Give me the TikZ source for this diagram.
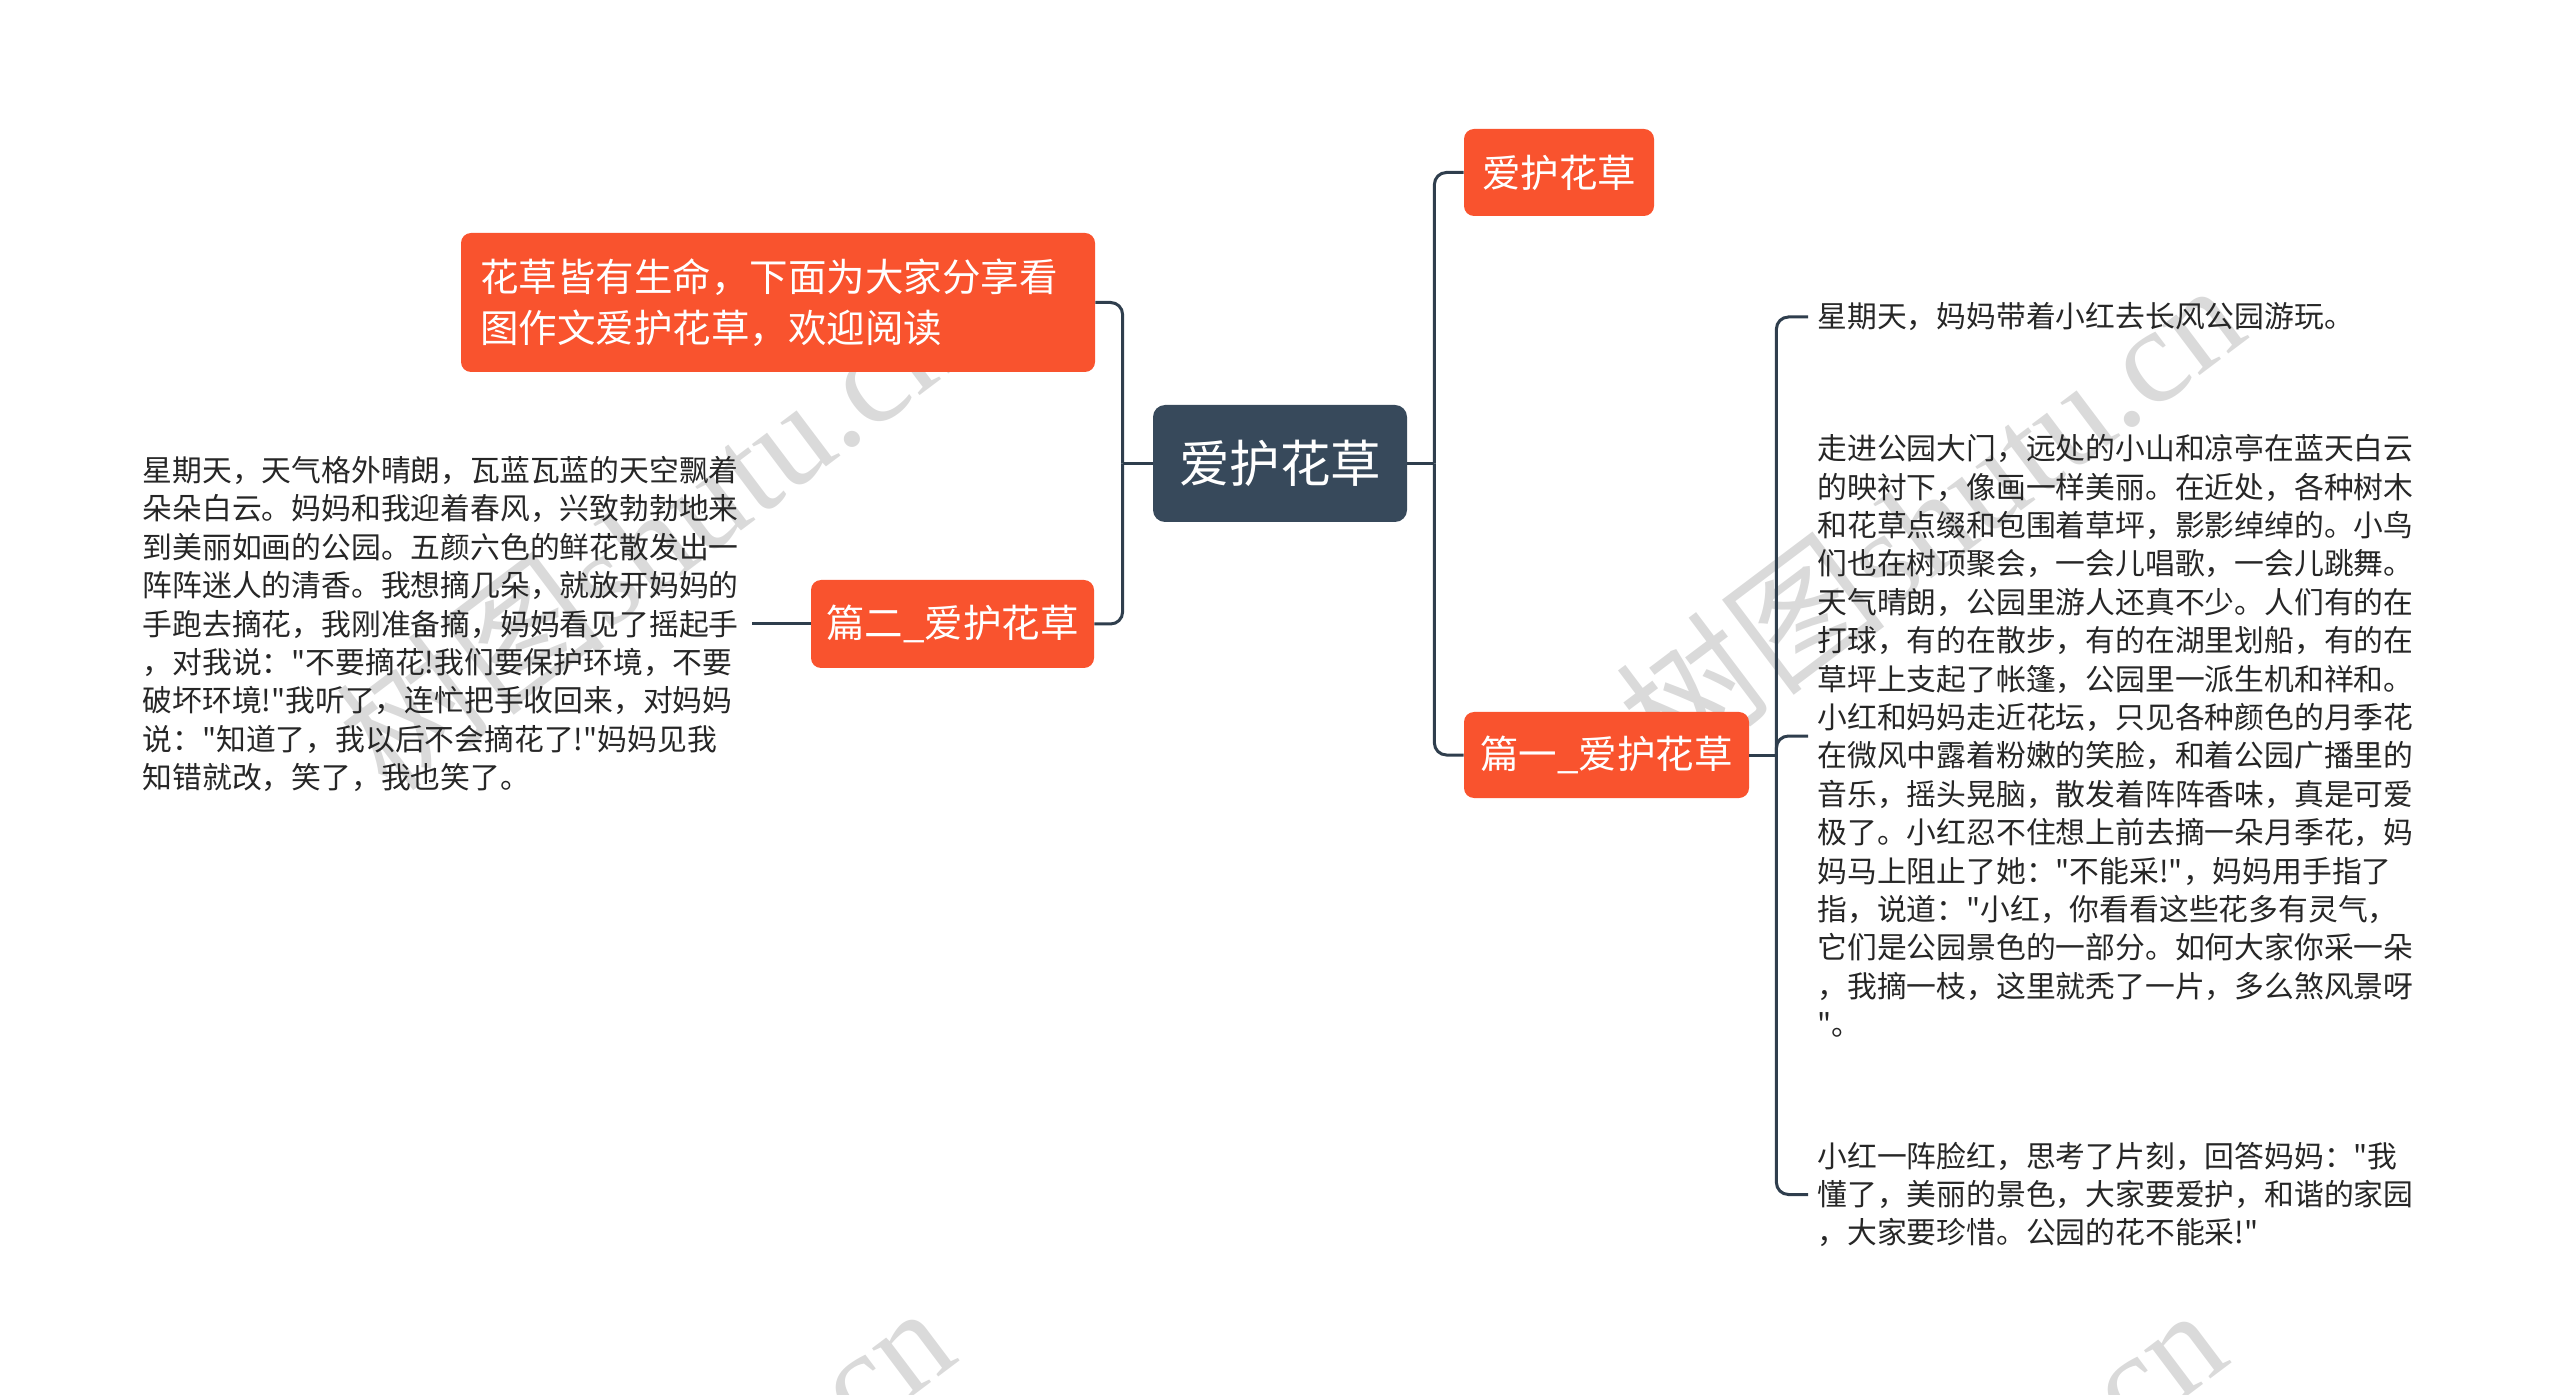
\documentclass[tikz,border=0pt]{standalone}
\usepackage{fontspec}
\newfontfamily\cjkf{Noto Sans CJK SC}
\newfontfamily\wmserif{Liberation Serif}
\definecolor{orng}{HTML}{F9532E}
\definecolor{slate}{HTML}{37495B}
\definecolor{linec}{HTML}{2F3E4D}
\definecolor{txt}{HTML}{262626}
\definecolor{wmc}{HTML}{DADADA}
\begin{document}
\begin{tikzpicture}[x=0.5pt,y=-0.5pt,
  topic/.style={fill=orng, text=white, rounded corners=5pt, inner sep=0pt, font=\cjkf\fontsize{19.25pt}{25.5pt}\selectfont},
  root/.style={fill=slate, text=white, rounded corners=6pt, inner sep=0pt, font=\cjkf\fontsize{25.25pt}{30pt}\selectfont},
  para/.style={text=txt, align=left, inner xsep=4.5pt, inner ysep=0pt, text width=300pt, font=\cjkf\fontsize{14.9pt}{19.2pt}\selectfont},
  conn/.style={draw=linec, line width=1.5pt, rounded corners=6pt},
  wmark/.style={text=wmc, rotate=37, inner sep=0pt, font=\cjkf\fontsize{68pt}{68pt}\selectfont}
]
\useasboundingbox (0,0) rectangle (2560,1395);
\begin{scope}
\clip (0,0) rectangle (2560,1395);
\node[wmark] (wma) at (650,535) {树图\wmserif shutu.cn};
\node[wmark] (wmb) at (1930,515) {树图\wmserif shutu.cn};
\node[wmark] (wmc) at (640,1538) {树图\wmserif shutu.cn};
\node[wmark] (wmd) at (1912,1540) {树图\wmserif shutu.cn};
\end{scope}

\node[root, minimum width=127pt, minimum height=58.5pt] (root) at (1280,463.5) {爱护花草};
\node[topic, minimum width=95pt, minimum height=43.5pt] (t1) at (1559,172.5) {爱护花草};
\node[topic, minimum width=142.5pt, minimum height=43pt] (p1) at (1606.5,755) {篇一\_爱护花草};
\node[topic, minimum width=141.5pt, minimum height=44pt] (p2) at (952.5,624) {篇二\_爱护花草};
\node[topic, minimum width=317pt, minimum height=69.5pt, align=left, text width=298pt, inner xsep=9pt] (intro) at (778,302.5) {花草皆有生命，下面为大家分享看\\图作文爱护花草，欢迎阅读};

\node[para, anchor=east] (l1) at (752,624) {星期天，天气格外晴朗，瓦蓝瓦蓝的天空飘着\\
朵朵白云。妈妈和我迎着春风，兴致勃勃地来\\
到美丽如画的公园。五颜六色的鲜花散发出一\\
阵阵迷人的清香。我想摘几朵，就放开妈妈的\\
手跑去摘花，我刚准备摘，妈妈看见了摇起手\\
，对我说："不要摘花!我们要保护环境，不要\\
破坏环境!"我听了，连忙把手收回来，对妈妈\\
说："知道了，我以后不会摘花了!"妈妈见我\\
知错就改，笑了，我也笑了。};

\node[para, anchor=west] (r1) at (1808,317) {星期天，妈妈带着小红去长风公园游玩。};
\node[para, anchor=west] (r2) at (1808,736) {走进公园大门，远处的小山和凉亭在蓝天白云\\
的映衬下，像画一样美丽。在近处，各种树木\\
和花草点缀和包围着草坪，影影绰绰的。小鸟\\
们也在树顶聚会，一会儿唱歌，一会儿跳舞。\\
天气晴朗，公园里游人还真不少。人们有的在\\
打球，有的在散步，有的在湖里划船，有的在\\
草坪上支起了帐篷，公园里一派生机和祥和。\\
小红和妈妈走近花坛，只见各种颜色的月季花\\
在微风中露着粉嫩的笑脸，和着公园广播里的\\
音乐，摇头晃脑，散发着阵阵香味，真是可爱\\
极了。小红忍不住想上前去摘一朵月季花，妈\\
妈马上阻止了她："不能采!"，妈妈用手指了\\
指，说道："小红，你看看这些花多有灵气，\\
它们是公园景色的一部分。如何大家你采一朵\\
，我摘一枝，这里就秃了一片，多么煞风景呀\\
"。};
\node[para, anchor=west] (r3) at (1808,1194.5) {小红一阵脸红，思考了片刻，回答妈妈："我\\
懂了，美丽的景色，大家要爱护，和谐的家园\\
，大家要珍惜。公园的花不能采!"};

\draw[conn] (root.east) -- ([xshift=13.5pt]root.east);
\draw[conn] ([xshift=13.5pt]root.east) |- (t1.west);
\draw[conn] ([xshift=13.5pt]root.east) |- (p1.west);
\draw[conn] (root.west) -- ([xshift=-15pt]root.west);
\draw[conn] ([xshift=-15pt]root.west) |- (intro.east);
\draw[conn] ([xshift=-15pt]root.west) |- (p2.east);
\draw[conn] (p2.west) -- (l1.east);
\draw[conn] (p1.east) -- ([xshift=13.5pt]p1.east);
\draw[conn] ([xshift=13.5pt]p1.east) |- (r1.west);
\draw[conn] ([xshift=13.5pt]p1.east) |- (r2.west);
\draw[conn] ([xshift=13.5pt]p1.east) |- (r3.west);
\end{tikzpicture}
\end{document}
